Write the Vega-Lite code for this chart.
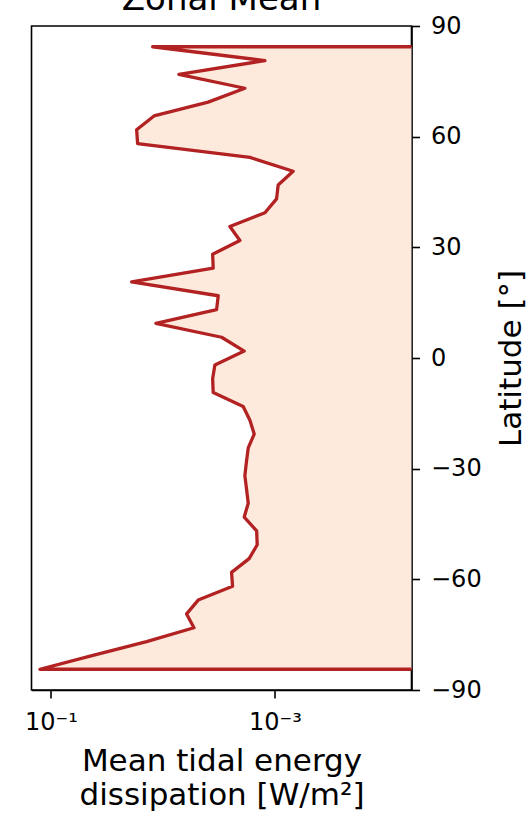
{
  "$schema": "https://vega.github.io/schema/vega-lite/v6.json",
  "width": 380,
  "height": 664,
  "autosize": {"type": "none"},
  "padding": {"left": 31.5, "top": 26, "right": 119.5, "bottom": 127},
  "title": {
    "text": "Zonal Mean",
    "font": "DejaVu Sans",
    "fontSize": 34,
    "fontWeight": "normal",
    "color": "black",
    "anchor": "middle",
    "baseline": "alphabetic",
    "offset": -30
  },
  "config": {
    "view": {"stroke": "black", "strokeWidth": 1.6},
    "axis": {
      "grid": false,
      "domainColor": "black",
      "domainWidth": 1.6,
      "tickColor": "black",
      "tickWidth": 1.6,
      "tickSize": 8,
      "labelFont": "DejaVu Sans",
      "labelFontSize": 24,
      "labelColor": "black",
      "labelFlush": false,
      "labelOverlap": false,
      "titleFont": "DejaVu Sans",
      "titleFontSize": 31,
      "titleFontWeight": "normal",
      "titleColor": "black",
      "zindex": 1
    }
  },
  "data": {
    "values": [
      {"lat": 84.375, "dissipation": 0.01236},
      {"lat": 80.625, "dissipation": 0.001227},
      {"lat": 76.875, "dissipation": 0.00720},
      {"lat": 73.125, "dissipation": 0.001854},
      {"lat": 69.375, "dissipation": 0.003945},
      {"lat": 65.625, "dissipation": 0.01202},
      {"lat": 61.875, "dissipation": 0.01718},
      {"lat": 58.125, "dissipation": 0.01683},
      {"lat": 54.375, "dissipation": 0.001671},
      {"lat": 50.625, "dissipation": 0.000687},
      {"lat": 46.875, "dissipation": 0.000935},
      {"lat": 43.125, "dissipation": 0.000966},
      {"lat": 39.375, "dissipation": 0.001227},
      {"lat": 35.625, "dissipation": 0.002523},
      {"lat": 31.875, "dissipation": 0.002053},
      {"lat": 28.125, "dissipation": 0.003597},
      {"lat": 24.375, "dissipation": 0.003556},
      {"lat": 20.625, "dissipation": 0.01904},
      {"lat": 16.875, "dissipation": 0.003207},
      {"lat": 13.125, "dissipation": 0.003317},
      {"lat": 9.375, "dissipation": 0.01155},
      {"lat": 5.625, "dissipation": 0.002992},
      {"lat": 1.875, "dissipation": 0.001879},
      {"lat": -1.875, "dissipation": 0.003436},
      {"lat": -5.625, "dissipation": 0.003597},
      {"lat": -9.375, "dissipation": 0.003556},
      {"lat": -13.125, "dissipation": 0.001919},
      {"lat": -16.875, "dissipation": 0.001671},
      {"lat": -20.625, "dissipation": 0.001530},
      {"lat": -24.375, "dissipation": 0.001730},
      {"lat": -28.125, "dissipation": 0.001795},
      {"lat": -31.875, "dissipation": 0.001854},
      {"lat": -35.625, "dissipation": 0.001790},
      {"lat": -39.375, "dissipation": 0.001730},
      {"lat": -43.125, "dissipation": 0.001879},
      {"lat": -46.875, "dissipation": 0.001455},
      {"lat": -50.625, "dissipation": 0.001438},
      {"lat": -54.375, "dissipation": 0.001698},
      {"lat": -58.125, "dissipation": 0.002438},
      {"lat": -61.875, "dissipation": 0.002388},
      {"lat": -65.625, "dissipation": 0.004842},
      {"lat": -69.375, "dissipation": 0.006144},
      {"lat": -73.125, "dissipation": 0.005284},
      {"lat": -76.875, "dissipation": 0.01400},
      {"lat": -80.625, "dissipation": 0.04217},
      {"lat": -84.375, "dissipation": 0.1254}
    ]
  },
  "mark": {
    "type": "area",
    "orient": "horizontal",
    "fill": "#feeadc",
    "stroke": "#b22222",
    "strokeWidth": 3.3,
    "strokeJoin": "round",
    "clip": true
  },
  "encoding": {
    "y": {
      "field": "lat",
      "type": "quantitative",
      "scale": {"domain": [-90, 90], "nice": false, "zero": false},
      "axis": {
        "orient": "right",
        "values": [-90, -60, -30, 0, 30, 60, 90],
        "title": "Latitude [°]",
        "titleAngle": 270,
        "titleBaseline": "top",
        "titlePadding": 15,
        "labelAlign": "left",
        "labelBaseline": "middle",
        "labelPadding": 11
      }
    },
    "x": {
      "field": "dissipation",
      "type": "quantitative",
      "scale": {"type": "log", "domain": [0.0000602, 0.1493], "reverse": true, "nice": false},
      "axis": {
        "values": [0.1, 0.001],
        "labelExpr": "datum.value > 0.01 ? '10⁻¹' : '10⁻³'",
        "labelBaseline": "alphabetic",
        "labelPadding": 31,
        "title": ["Mean tidal energy", "dissipation [W/m²]"],
        "titleLineHeight": 34,
        "titlePadding": 12
      }
    },
    "x2": {"datum": 0.00001}
  }
}
